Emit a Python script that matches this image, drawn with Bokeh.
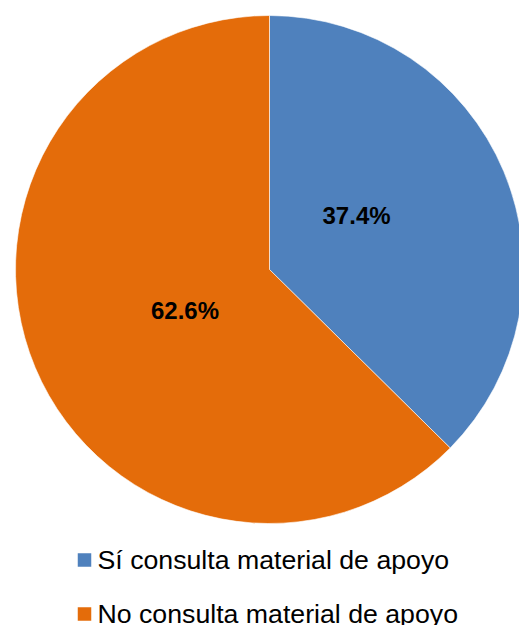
import math
from bokeh.plotting import figure
from bokeh.models import Range1d
from bokeh.core.properties import value
from bokeh.embed import file_html
from bokeh.resources import INLINE

# ---- data ----
categories = ["Sí consulta material de apoyo", "No consulta material de apoyo"]
percentages = [37.4, 62.6]
labels = ["37.4%", "62.6%"]
colors = ["#4F81BD", "#E46C0A"]

# ---- layout ----
W, H = 519, 625
cx, cy, R = 269, 356, 254
label_r = 0.4 * R
label_dx = [-6.7, 9.2]
label_dy = [14.8, -2.3]

p = figure(width=W, height=H, output_backend="svg", toolbar_location=None,
           x_range=Range1d(0, W), y_range=Range1d(0, H), min_border=0)
p.axis.visible = False
p.grid.visible = False
p.outline_line_color = None
p.background_fill_color = "white"
p.border_fill_color = "white"

total = sum(percentages)
start = math.pi / 2
starts, ends, lx, ly = [], [], [], []
for i, v in enumerate(percentages):
    sweep = v / total * 2 * math.pi
    end = start - sweep
    starts.append(start)
    ends.append(end)
    mid = (start + end) / 2
    lx.append(cx + label_r * math.cos(mid) + label_dx[i])
    ly.append(cy + label_r * math.sin(mid) + label_dy[i])
    start = end

p.wedge(x=[cx] * len(percentages), y=[cy] * len(percentages), radius=R,
        start_angle=starts, end_angle=ends, direction="clock",
        fill_color=colors, line_color="white", line_width=0.6)

p.text(x=lx, y=ly, text=labels, text_font=value("Liberation Sans"),
       text_font_size="24px", text_font_style="bold", text_color="black",
       text_align="center", text_baseline="middle")

# legend (manual)
leg_x_sq = 84
leg_text_x = 97
leg_sq_y = 65.5
leg_text_y = 66
leg_step = 54
for i, cat in enumerate(categories):
    p.rect(x=[leg_x_sq], y=[leg_sq_y - i * leg_step], width=13.5, height=13.5,
           fill_color=colors[i], line_color=None)
    p.text(x=[leg_text_x], y=[leg_text_y - i * leg_step], text=[cat],
           text_font=value("Liberation Sans"),
           text_font_size="26.7px", text_color="black",
           text_align="left", text_baseline="alphabetic")

open("out.html", "w").write(file_html(p, INLINE))
